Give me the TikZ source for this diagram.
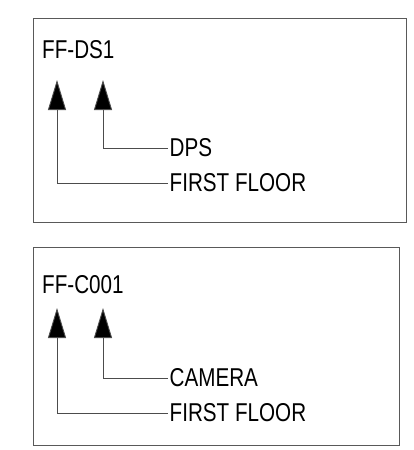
\documentclass[tikz,border=0pt]{standalone}
\usepackage{fontspec}
\setmainfont[FakeStretch=0.8]{Liberation Sans}
\usetikzlibrary{arrows.meta,positioning}

\begin{document}
\begin{tikzpicture}[x=1pt, y=-1pt,
    tagbox/.style={draw=black!65, line width=0.9pt},
    tagtext/.style={inner xsep=1.5pt, inner ysep=0pt, font=\fontsize{25.8}{30}\selectfont},
    leader/.style={draw=black!70, line width=0.9pt,
                   {Triangle[width=18pt, length=30pt, fill=black]}-}]

  \useasboundingbox (0,0) rectangle (414,450);

  %--- Top tag: FF-DS1
  \draw[tagbox] (33,18) rectangle (406,222);
  \node[tagtext, anchor=base west] (code1) at (40.5,58) {FF-DS1};
  \coordinate (tip1a) at (57,80);
  \coordinate (tip1b) at (103,80);
  \node[tagtext, anchor=west] (dps) at (168,148) {DPS};
  \node[tagtext, anchor=west] (floor1) at (168,183) {FIRST FLOOR};
  \draw[leader] (tip1a) |- (floor1.west);
  \draw[leader] (tip1b) |- (dps.west);

  %--- Bottom tag: FF-C001
  \draw[tagbox] (33,247) rectangle (399,445);
  \node[tagtext, anchor=base west] (code2) at (40.5,293) {FF-C001};
  \coordinate (tip2a) at (57,308);
  \coordinate (tip2b) at (103,308);
  \node[tagtext, anchor=west] (camera) at (168,378) {CAMERA};
  \node[tagtext, anchor=west] (floor2) at (168,413) {FIRST FLOOR};
  \draw[leader] (tip2a) |- (floor2.west);
  \draw[leader] (tip2b) |- (camera.west);

\end{tikzpicture}
\end{document}
